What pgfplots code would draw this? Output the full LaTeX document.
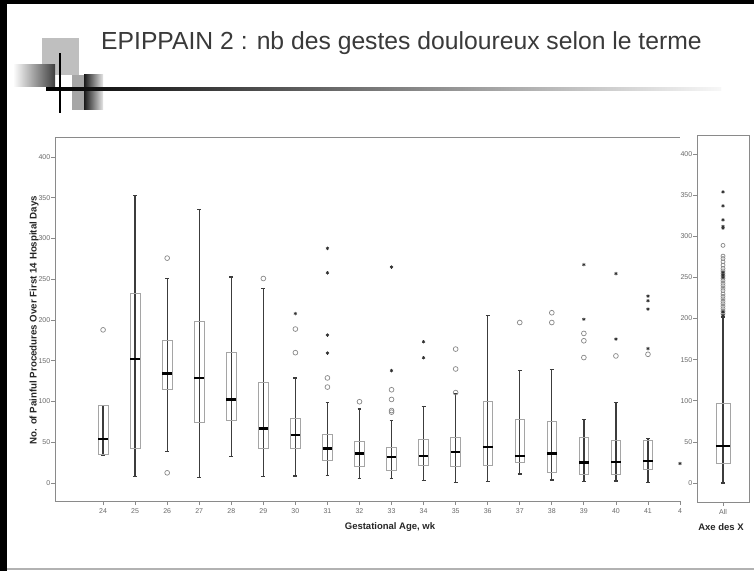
\documentclass[border=0pt]{standalone}
\usepackage{fontspec}
\setmainfont{Liberation Sans}
\usepackage{pgfplots}
\pgfplotsset{compat=1.18}
\usepgfplotslibrary{statistics}
\definecolor{boxgray}{HTML}{A5A5A5}
\definecolor{whisk}{HTML}{3C3C3C}
\definecolor{tickgray}{HTML}{6A6A6A}
\definecolor{axisgray}{HTML}{8A8A8A}
\definecolor{titlegray}{HTML}{3A3A3A}
\definecolor{circgray}{HTML}{888888}
\pgfplotsset{
  bx/.style={
    boxplot/draw direction=y,
    boxplot/box extend=0.3,
    boxplot/whisker extend=0.12,
    boxplot/every box/.style={draw=boxgray, line width=0.7pt, fill=none},
    boxplot/every whisker/.style={draw=whisk, line width=1.3pt},
    boxplot/every median/.style={draw=black, line width=2.4pt},
    boxplot/draw/lower whisker/.code={%
      \draw[/pgfplots/boxplot/every whisker/.try]
        (boxplot box cs:\pgfplotsboxplotvalue{lower whisker},0.5) --
        (boxplot box cs:\pgfplotsboxplotvalue{upper whisker},0.5)
        (boxplot whisker cs:\pgfplotsboxplotvalue{lower whisker},0) --
        (boxplot whisker cs:\pgfplotsboxplotvalue{lower whisker},1);
    },
  },
  circ/.style={only marks, mark=o, mark size=2.4pt, mark options={draw=circgray, line width=0.7pt}},
  star/.style={only marks, mark=asterisk, mark size=1.7pt, mark options={draw=black!80, line width=0.7pt}},
  ticks/.style={
    tick align=outside, major tick length=4pt,
    tick style={draw=axisgray, line width=0.8pt},
    ticklabel style={font=\fontsize{7}{8}\selectfont, text=tickgray},
    yticklabel style={inner xsep=0.6pt},
    /pgf/number format/assume math mode=true,
  },
}
\begin{document}
\begin{tikzpicture}
\useasboundingbox (0,0) rectangle (754pt,571pt);
\fill[white] (0,0) rectangle (754pt,571pt);
% slide frame
\fill[black] (0,0) rectangle (7pt,571pt);
\fill[black] (0,567pt) rectangle (754pt,571pt);
\fill[black!30] (7pt,1pt) rectangle (754pt,3pt);
% logo
\fill[black!25] (42pt,496pt) rectangle (79pt,533pt);
\shade[left color=white, right color=black!75] (13pt,484pt) rectangle (55pt,506pt);
\fill[black!35] (72pt,461pt) rectangle (84pt,496pt);
\shade[left color=black!90, right color=black!10] (84pt,461pt) rectangle (103pt,496pt);
\shade[left color=black, right color=black!3] (46pt,480pt) rectangle (721pt,483pt);
\fill[black] (59pt,458pt) rectangle (61pt,518pt);
% title
\node[anchor=base west, inner sep=0pt, text=titlegray, font=\fontsize{24.7}{29}\selectfont] at (101pt,521pt) {EPIPPAIN 2 : nb des gestes douloureux selon le terme};

\begin{axis}[
  at={(55pt,70pt)}, anchor=south west, scale only axis,
  width=625pt, height=363pt,
  xmin=22.5, xmax=42, ymin=-22, ymax=423.4,
  axis x line*=bottom, axis y line*=left,
  axis line style={-, draw=axisgray, line width=1pt},
  xtick={24,25,26,27,28,29,30,31,32,33,34,35,36,37,38,39,40,41,42},
  xticklabels={24,25,26,27,28,29,30,31,32,33,34,35,36,37,38,39,40,41,4},
  ytick={0,50,100,150,200,250,300,350,400},
  ticks,
  clip=false,
]
\draw[axisgray, line width=1pt] (rel axis cs:0,1) -- (rel axis cs:1,1);
\addplot[bx, boxplot prepared={draw position=24, lower whisker=34.5, lower quartile=35.6, median=54, upper quartile=95, upper whisker=95}] coordinates {};
\addplot[bx, boxplot prepared={draw position=25, lower whisker=8, lower quartile=42, median=152, upper quartile=233, upper whisker=353}] coordinates {};
\addplot[bx, boxplot prepared={draw position=26, lower whisker=38.4, lower quartile=115, median=134.6, upper quartile=175.5, upper whisker=251}] coordinates {};
\addplot[bx, boxplot prepared={draw position=27, lower whisker=6.5, lower quartile=74.5, median=129, upper quartile=198, upper whisker=336}] coordinates {};
\addplot[bx, boxplot prepared={draw position=28, lower whisker=33, lower quartile=77, median=102.7, upper quartile=160, upper whisker=253}] coordinates {};
\addplot[bx, boxplot prepared={draw position=29, lower whisker=8, lower quartile=42.5, median=67, upper quartile=124, upper whisker=239}] coordinates {};
\addplot[bx, boxplot prepared={draw position=30, lower whisker=8.6, lower quartile=42.5, median=59, upper quartile=80, upper whisker=129}] coordinates {};
\addplot[bx, boxplot prepared={draw position=31, lower whisker=9.4, lower quartile=27.4, median=42.5, upper quartile=60, upper whisker=98.5}] coordinates {};
\addplot[bx, boxplot prepared={draw position=32, lower whisker=5.7, lower quartile=20.9, median=36.4, upper quartile=50.7, upper whisker=90.8}] coordinates {};
\addplot[bx, boxplot prepared={draw position=33, lower whisker=5.7, lower quartile=15, median=32, upper quartile=43.4, upper whisker=76.5}] coordinates {};
\addplot[bx, boxplot prepared={draw position=34, lower whisker=2.9, lower quartile=22, median=33.5, upper quartile=54, upper whisker=93.7}] coordinates {};
\addplot[bx, boxplot prepared={draw position=35, lower whisker=0.8, lower quartile=20.9, median=38.4, upper quartile=56, upper whisker=110}] coordinates {};
\addplot[bx, boxplot prepared={draw position=36, lower whisker=1.6, lower quartile=22, median=44.6, upper quartile=100, upper whisker=206}] coordinates {};
\addplot[bx, boxplot prepared={draw position=37, lower whisker=11, lower quartile=25.4, median=33.5, upper quartile=78, upper whisker=137.8}] coordinates {};
\addplot[bx, boxplot prepared={draw position=38, lower whisker=3.7, lower quartile=12.7, median=36.4, upper quartile=76, upper whisker=139.5}] coordinates {};
\addplot[bx, boxplot prepared={draw position=39, lower whisker=1.6, lower quartile=10.6, median=25, upper quartile=56, upper whisker=78}] coordinates {};
\addplot[bx, boxplot prepared={draw position=40, lower whisker=2.4, lower quartile=10.6, median=26, upper quartile=52.8, upper whisker=98.5}] coordinates {};
\addplot[bx, boxplot prepared={draw position=41, lower whisker=0.8, lower quartile=16.8, median=27, upper quartile=52.8, upper whisker=54.8}] coordinates {};
\addplot[circ] coordinates {
(24,188) (26,276) (26,12.6) (29,251) (30,189) (30,160) (31,129) (31,117.8)
(32,99.8) (33,114.5) (33,102.6) (33,89) (33,87) (35,164.4) (35,140) (35,111)
(37,197) (38,209) (38,197) (39,183.6) (39,174.6) (39,154) (40,156) (41,158)};
\addplot[star] coordinates {
(30,208) (31,288) (31,258) (31,181.6) (31,159.5) (33,265) (33,138) (34,173.4) (34,153.8)
(39,268) (39,201) (40,257) (40,176.7) (41,229.4) (41,223.7) (41,213.5) (41,165) (42,24)};
\end{axis}

\begin{axis}[
  at={(697pt,69pt)}, anchor=south west, scale only axis,
  width=52pt, height=367pt,
  xmin=0, xmax=1, ymin=-23, ymax=423.2,
  axis line style={-, draw=axisgray, line width=1pt},
  xtick={0.5}, xticklabels={All},
  ytick={0,50,100,150,200,250,300,350,400},
  xtick pos=bottom, ytick pos=left,
  ticks,
  clip=false,
]
\addplot[bx, boxplot/box extend=0.27, boxplot/whisker extend=0.08, boxplot prepared={draw position=0.5, lower whisker=0, lower quartile=24, median=45, upper quartile=97, upper whisker=202}] coordinates {};
\addplot[circ, mark size=2pt] coordinates {
(0.5,206) (0.5,209) (0.5,212) (0.5,215) (0.5,218) (0.5,221) (0.5,224) (0.5,227) (0.5,230)
(0.5,234) (0.5,237) (0.5,240) (0.5,243) (0.5,246) (0.5,249) (0.5,252) (0.5,255) (0.5,258)
(0.5,261) (0.5,265) (0.5,269) (0.5,273) (0.5,276) (0.5,289)};
\addplot[star] coordinates {
(0.5,204) (0.5,208) (0.5,250) (0.5,253) (0.5,256) (0.5,310) (0.5,312) (0.5,320) (0.5,337) (0.5,354)};
\end{axis}

% axis titles
\node[rotate=90, text=black!85, font=\bfseries\fontsize{9.7}{11}\selectfont] at (34pt,251pt) {No. of Painful Procedures Over First 14 Hospital Days};
\node[text=black!85, font=\bfseries\fontsize{9.5}{11}\selectfont] at (390pt,44pt) {Gestational Age, wk};
\node[text=black!85, font=\bfseries\fontsize{9.5}{11}\selectfont] at (721pt,44pt) {Axe des X};
\end{tikzpicture}
\end{document}
